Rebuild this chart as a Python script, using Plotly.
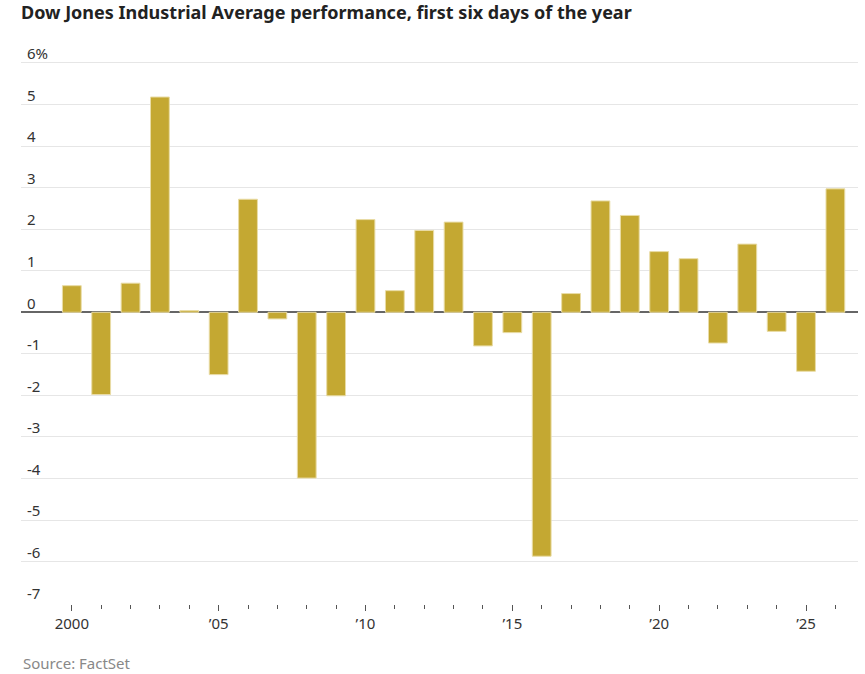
import plotly.graph_objects as go

years = list(range(2000, 2027))
values = [0.64, -1.98, 0.70, 5.18, 0.04, -1.50, 2.72, -0.16, -3.99, -2.01,
          2.23, 0.52, 1.97, 2.17, -0.81, -0.49, -5.87, 0.45, 2.68, 2.33,
          1.46, 1.29, -0.74, 1.64, -0.46, -1.42, 2.97]

y_tickvals = [6, 5, 4, 3, 2, 1, 0, -1, -2, -3, -4, -5, -6, -7]
y_ticktext = ["6%", "5", "4", "3", "2", "1", "0", "-1", "-2", "-3", "-4", "-5", "-6", "-7"]
x_tickvals = [2000, 2005, 2010, 2015, 2020, 2025]
x_ticktext = ["2000", "\u201905", "\u201910", "\u201915", "\u201920", "\u201925"]

FONT = "Noto Sans"

fig = go.Figure(go.Bar(
    x=years, y=values, width=0.64,
    marker=dict(color="#c4a832", line=dict(color="#e9dca6", width=1)),
    hoverinfo="x+y",
))

fig.update_layout(
    width=865, height=674,
    margin=dict(l=21, r=7, t=38, b=70, autoexpand=False),
    paper_bgcolor="white", plot_bgcolor="white",
    showlegend=False,
    font=dict(family=FONT, color="#333333", size=15),
    title=dict(
        text="<b>Dow Jones Industrial Average performance, first six days of the year</b>",
        x=21 / 865, xanchor="left", xref="container",
        y=1 - 13 / 674, yanchor="middle", yref="container",
        font=dict(family=FONT, size=18, color="#222222"),
    ),
    xaxis=dict(
        range=[1998.27, 2026.77], automargin=False,
        tickmode="array", tickvals=x_tickvals, ticktext=x_ticktext,
        ticks="outside", ticklen=6, tickwidth=1.2, tickcolor="#555555",
        showgrid=False, zeroline=False, showline=False,
        tickfont=dict(family=FONT, size=15, color="#333333"),
        minor=dict(tickmode="linear", tick0=2000, dtick=1, ticks="outside",
                   ticklen=3.5, tickwidth=1.2, tickcolor="#555555", showgrid=False),
    ),
    yaxis=dict(
        range=[-7.02, 6.6], automargin=False,
        tickmode="array", tickvals=y_tickvals, ticktext=y_ticktext,
        ticks="", ticklabelposition="inside", ticklabelshift=-9, ticklabelstandoff=3,
        showgrid=True, gridcolor="#e6e6e6", gridwidth=1.2,
        zeroline=True, zerolinecolor="#666666", zerolinewidth=1.6,
        showline=False,
        tickfont=dict(family=FONT, size=15, color="#333333"),
    ),
    annotations=[dict(
        text="Source: FactSet", xref="paper", yref="paper",
        x=0, y=0, xanchor="left", yanchor="middle",
        xshift=0, yshift=-59, showarrow=False,
        font=dict(family=FONT, size=15, color="#888888"),
    )],
)

fig.write_html(
    "out.html",
    config={"displayModeBar": False},
    post_script="document.body.style.margin='0px';document.documentElement.style.overflow='hidden';",
)
